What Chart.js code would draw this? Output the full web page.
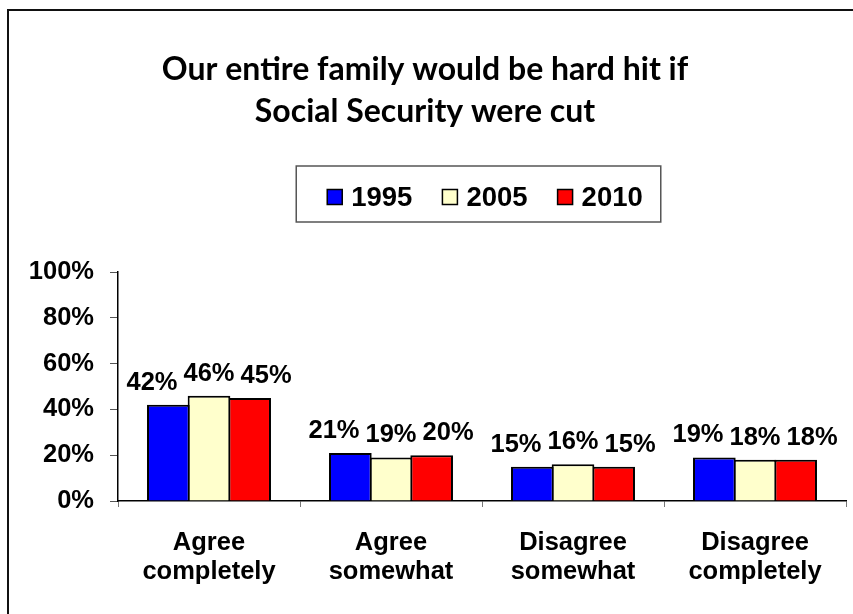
<!DOCTYPE html>
<html>
<head>
<meta charset="utf-8">
<title>Social Security survey</title>
<script src="https://cdn.jsdelivr.net/npm/chart.js@4/dist/chart.umd.min.js"></script>
<style>
  html, body { margin: 0; padding: 0; background: #fff; }
  #wrap { width: 853px; height: 614px; }
</style>
</head>
<body>
<div id="wrap"><canvas id="chart" width="853" height="614"></canvas></div>
<script>
// Survey answers, share of respondents per year
const categories = [
  ['Agree', 'completely'],
  ['Agree', 'somewhat'],
  ['Disagree', 'somewhat'],
  ['Disagree', 'completely']
];
const years = ['1995', '2005', '2010'];
const values1995 = [42, 21, 15, 19];
const values2005 = [46, 19, 16, 18];
const values2010 = [45, 20, 15, 18];
const yTicks = [0, 20, 40, 60, 80, 100];
const titleLines = ['Our entire family would be hard hit if', 'Social Security were cut'];

const seriesColors = ['#0000FF', '#FFFFCC', '#FF0000'];
const seriesValues = [values1995, values2005, values2010];
const sansBold = '"Liberation Sans", Arial, sans-serif';

// Outer frame around the whole figure
const framePlugin = {
  id: 'frame',
  beforeDraw(chart) {
    const ctx = chart.ctx;
    ctx.save();
    ctx.fillStyle = '#fff';
    ctx.fillRect(0, 0, chart.width, chart.height);
    ctx.strokeStyle = '#111';
    ctx.lineWidth = 2;
    ctx.strokeRect(8, 10, chart.width + 20, chart.height + 20);
    ctx.restore();
  }
};

// Boxed legend centred over the plot area
const boxLegendPlugin = {
  id: 'boxLegend',
  afterDraw(chart) {
    const ctx = chart.ctx;
    const area = chart.chartArea;
    ctx.save();
    ctx.font = 'bold 27.5px ' + sansBold;
    const sq = 15, gapText = 9, gapItem = 30;
    const widths = chart.data.datasets.map(d => sq + gapText + ctx.measureText(d.label).width);
    const total = widths.reduce((a, b) => a + b, 0) + gapItem * (widths.length - 1);
    let x = (area.left + area.right) / 2 - total / 2 + 3;
    const cy = 197;
    ctx.strokeStyle = '#555';
    ctx.lineWidth = 1.5;
    ctx.strokeRect(x - 31, 166, total + 49, 56);
    chart.data.datasets.forEach((d, i) => {
      ctx.fillStyle = d.backgroundColor;
      ctx.fillRect(x, cy - sq / 2, sq, sq);
      ctx.strokeStyle = '#000';
      ctx.lineWidth = 1.5;
      ctx.strokeRect(x, cy - sq / 2, sq, sq);
      ctx.fillStyle = '#000';
      ctx.textBaseline = 'middle';
      ctx.textAlign = 'left';
      ctx.fillText(d.label, x + sq + gapText, cy + 1);
      x += widths[i] + gapItem;
    });
    ctx.restore();
  }
};

// Percentage labels above each bar, spread so neighbours do not collide
const valueLabelPlugin = {
  id: 'valueLabels',
  afterDatasetsDraw(chart) {
    const ctx = chart.ctx;
    const xs = chart.scales.x;
    ctx.save();
    ctx.font = 'bold 25.5px ' + sansBold;
    ctx.fillStyle = '#000';
    ctx.textAlign = 'center';
    ctx.textBaseline = 'alphabetic';
    const n = chart.data.datasets.length;
    chart.data.labels.forEach((_, i) => {
      const metas = chart.data.datasets.map((_, j) => chart.getDatasetMeta(j).data[i]);
      const barStep = metas[1].x - metas[0].x;
      let maxW = 0;
      chart.data.datasets.forEach(d => { maxW = Math.max(maxW, ctx.measureText(d.data[i] + '%').width); });
      const step = Math.max(barStep, maxW + 6);
      const cx = xs.getPixelForValue(i);
      chart.data.datasets.forEach((d, j) => {
        const bar = metas[j];
        const lx = cx + (j - (n - 1) / 2) * step;
        ctx.fillText(d.data[i] + '%', lx, bar.y - 15);
      });
    });
    ctx.restore();
  }
};

new Chart(document.getElementById('chart'), {
  type: 'bar',
  data: {
    labels: categories,
    datasets: years.map((y, k) => ({
      label: y,
      data: seriesValues[k],
      backgroundColor: seriesColors[k],
      borderColor: '#000',
      borderWidth: 2,
      categoryPercentage: 0.67,
      barPercentage: 1.05
    }))
  },
  options: {
    responsive: false,
    animation: false,
    devicePixelRatio: 1,
    layout: { padding: { left: 4, right: 7, top: 0, bottom: 0 } },
    plugins: {
      legend: { display: false },
      tooltip: { enabled: false },
      title: {
        display: true,
        text: titleLines,
        color: '#000',
        font: { family: 'Lato, "Open Sans", sans-serif', weight: 'bold', size: 32, lineHeight: 1.3125 },
        padding: { top: 49, bottom: 139 }
      }
    },
    scales: {
      x: {
        grid: { display: true, drawOnChartArea: false, drawTicks: true, tickLength: 6, color: '#777', offset: true },
        border: { display: true, color: '#000', width: 1.5 },
        ticks: {
          color: '#000',
          padding: 22,
          font: { family: sansBold, weight: 'bold', size: 25.5, lineHeight: 1.12 }
        },
        afterFit(scale) { scale.height = 113; }
      },
      y: {
        min: 0,
        max: 100,
        afterBuildTicks(scale) { scale.ticks = yTicks.map(v => ({ value: v })); },
        grid: { display: true, drawOnChartArea: false, drawTicks: true, tickLength: 8, color: '#555' },
        border: { display: true, color: '#000', width: 1.5 },
        ticks: {
          color: '#000',
          padding: 16,
          font: { family: sansBold, weight: 'bold', size: 25.5 },
          callback: v => v + '%'
        },
        afterFit(scale) { scale.width = 114; }
      }
    }
  },
  plugins: [framePlugin, boxLegendPlugin, valueLabelPlugin]
});
</script>
</body>
</html>
